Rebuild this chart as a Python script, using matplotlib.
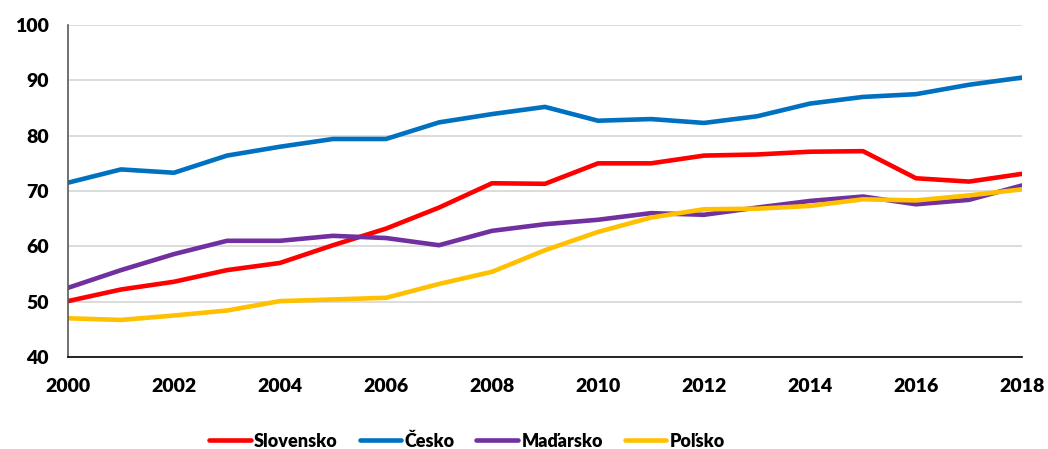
import matplotlib
matplotlib.use("Agg")
import matplotlib.pyplot as plt

years = list(range(2000, 2019))

slovensko = [50.1, 52.2, 53.6, 55.7, 57.0, 60.2, 63.2, 67.0, 71.4, 71.3,
             75.0, 75.0, 76.4, 76.6, 77.1, 77.2, 72.3, 71.7, 73.1]
cesko = [71.5, 73.9, 73.3, 76.4, 78.0, 79.4, 79.4, 82.4, 83.9, 85.2,
         82.7, 83.0, 82.3, 83.5, 85.8, 87.0, 87.5, 89.2, 90.5]
madarsko = [52.5, 55.7, 58.6, 61.0, 61.0, 61.9, 61.5, 60.2, 62.8, 64.0,
            64.8, 66.0, 65.7, 67.0, 68.2, 69.0, 67.6, 68.4, 71.0]
polsko = [47.0, 46.7, 47.5, 48.4, 50.1, 50.4, 50.7, 53.2, 55.4, 59.3,
          62.6, 65.2, 66.7, 66.8, 67.3, 68.5, 68.3, 69.2, 70.3]

series_names = ["Slovensko", "Česko", "Maďarsko", "Poľsko"]
series_colors = ["#FF0000", "#0070C0", "#7030A0", "#FFC000"]

plt.rcParams['font.family'] = ['Lato', 'DejaVu Sans']

W, H = 1048, 449
fig = plt.figure(figsize=(W / 100, H / 100), dpi=100)
ax = fig.add_axes([68 / W, 1 - 357 / H, (1022 - 68) / W, (357 - 25) / H])

for name, vals, col in zip(series_names, [slovensko, cesko, madarsko, polsko], series_colors):
    ax.plot(years, vals, color=col, lw=3.3, label=name, solid_capstyle='round')

ax.set_xlim(2000, 2018)
ax.set_ylim(40, 100)
ax.set_xticks(range(2000, 2019, 2))
ax.set_yticks(range(40, 101, 10))
ax.grid(axis='y', color='#D9D9D9', lw=1.3)
ax.set_axisbelow(True)
ax.tick_params(length=0, labelsize=14)
ax.tick_params(axis='x', pad=15)
ax.tick_params(axis='y', pad=14)
for lab in ax.get_xticklabels() + ax.get_yticklabels():
    lab.set_fontweight('heavy')

for s in ['top', 'right']:
    ax.spines[s].set_visible(False)
ax.spines['left'].set_color('#595959')
ax.spines['bottom'].set_color('black')
ax.spines['left'].set_linewidth(1.2)
ax.spines['bottom'].set_linewidth(1.2)
ax.set_clip_on(False)

leg = fig.legend(loc='center left', bbox_to_anchor=(209 / W, 1 - 441 / H), ncol=4, frameon=False,
                 prop={'weight': 'heavy', 'size': 13}, handlelength=2.3, columnspacing=1.2,
                 handletextpad=0.2, borderpad=0, borderaxespad=0)
for h in leg.get_lines():
    h.set_linewidth(3.3)

fig.savefig("out.png", dpi=100)
